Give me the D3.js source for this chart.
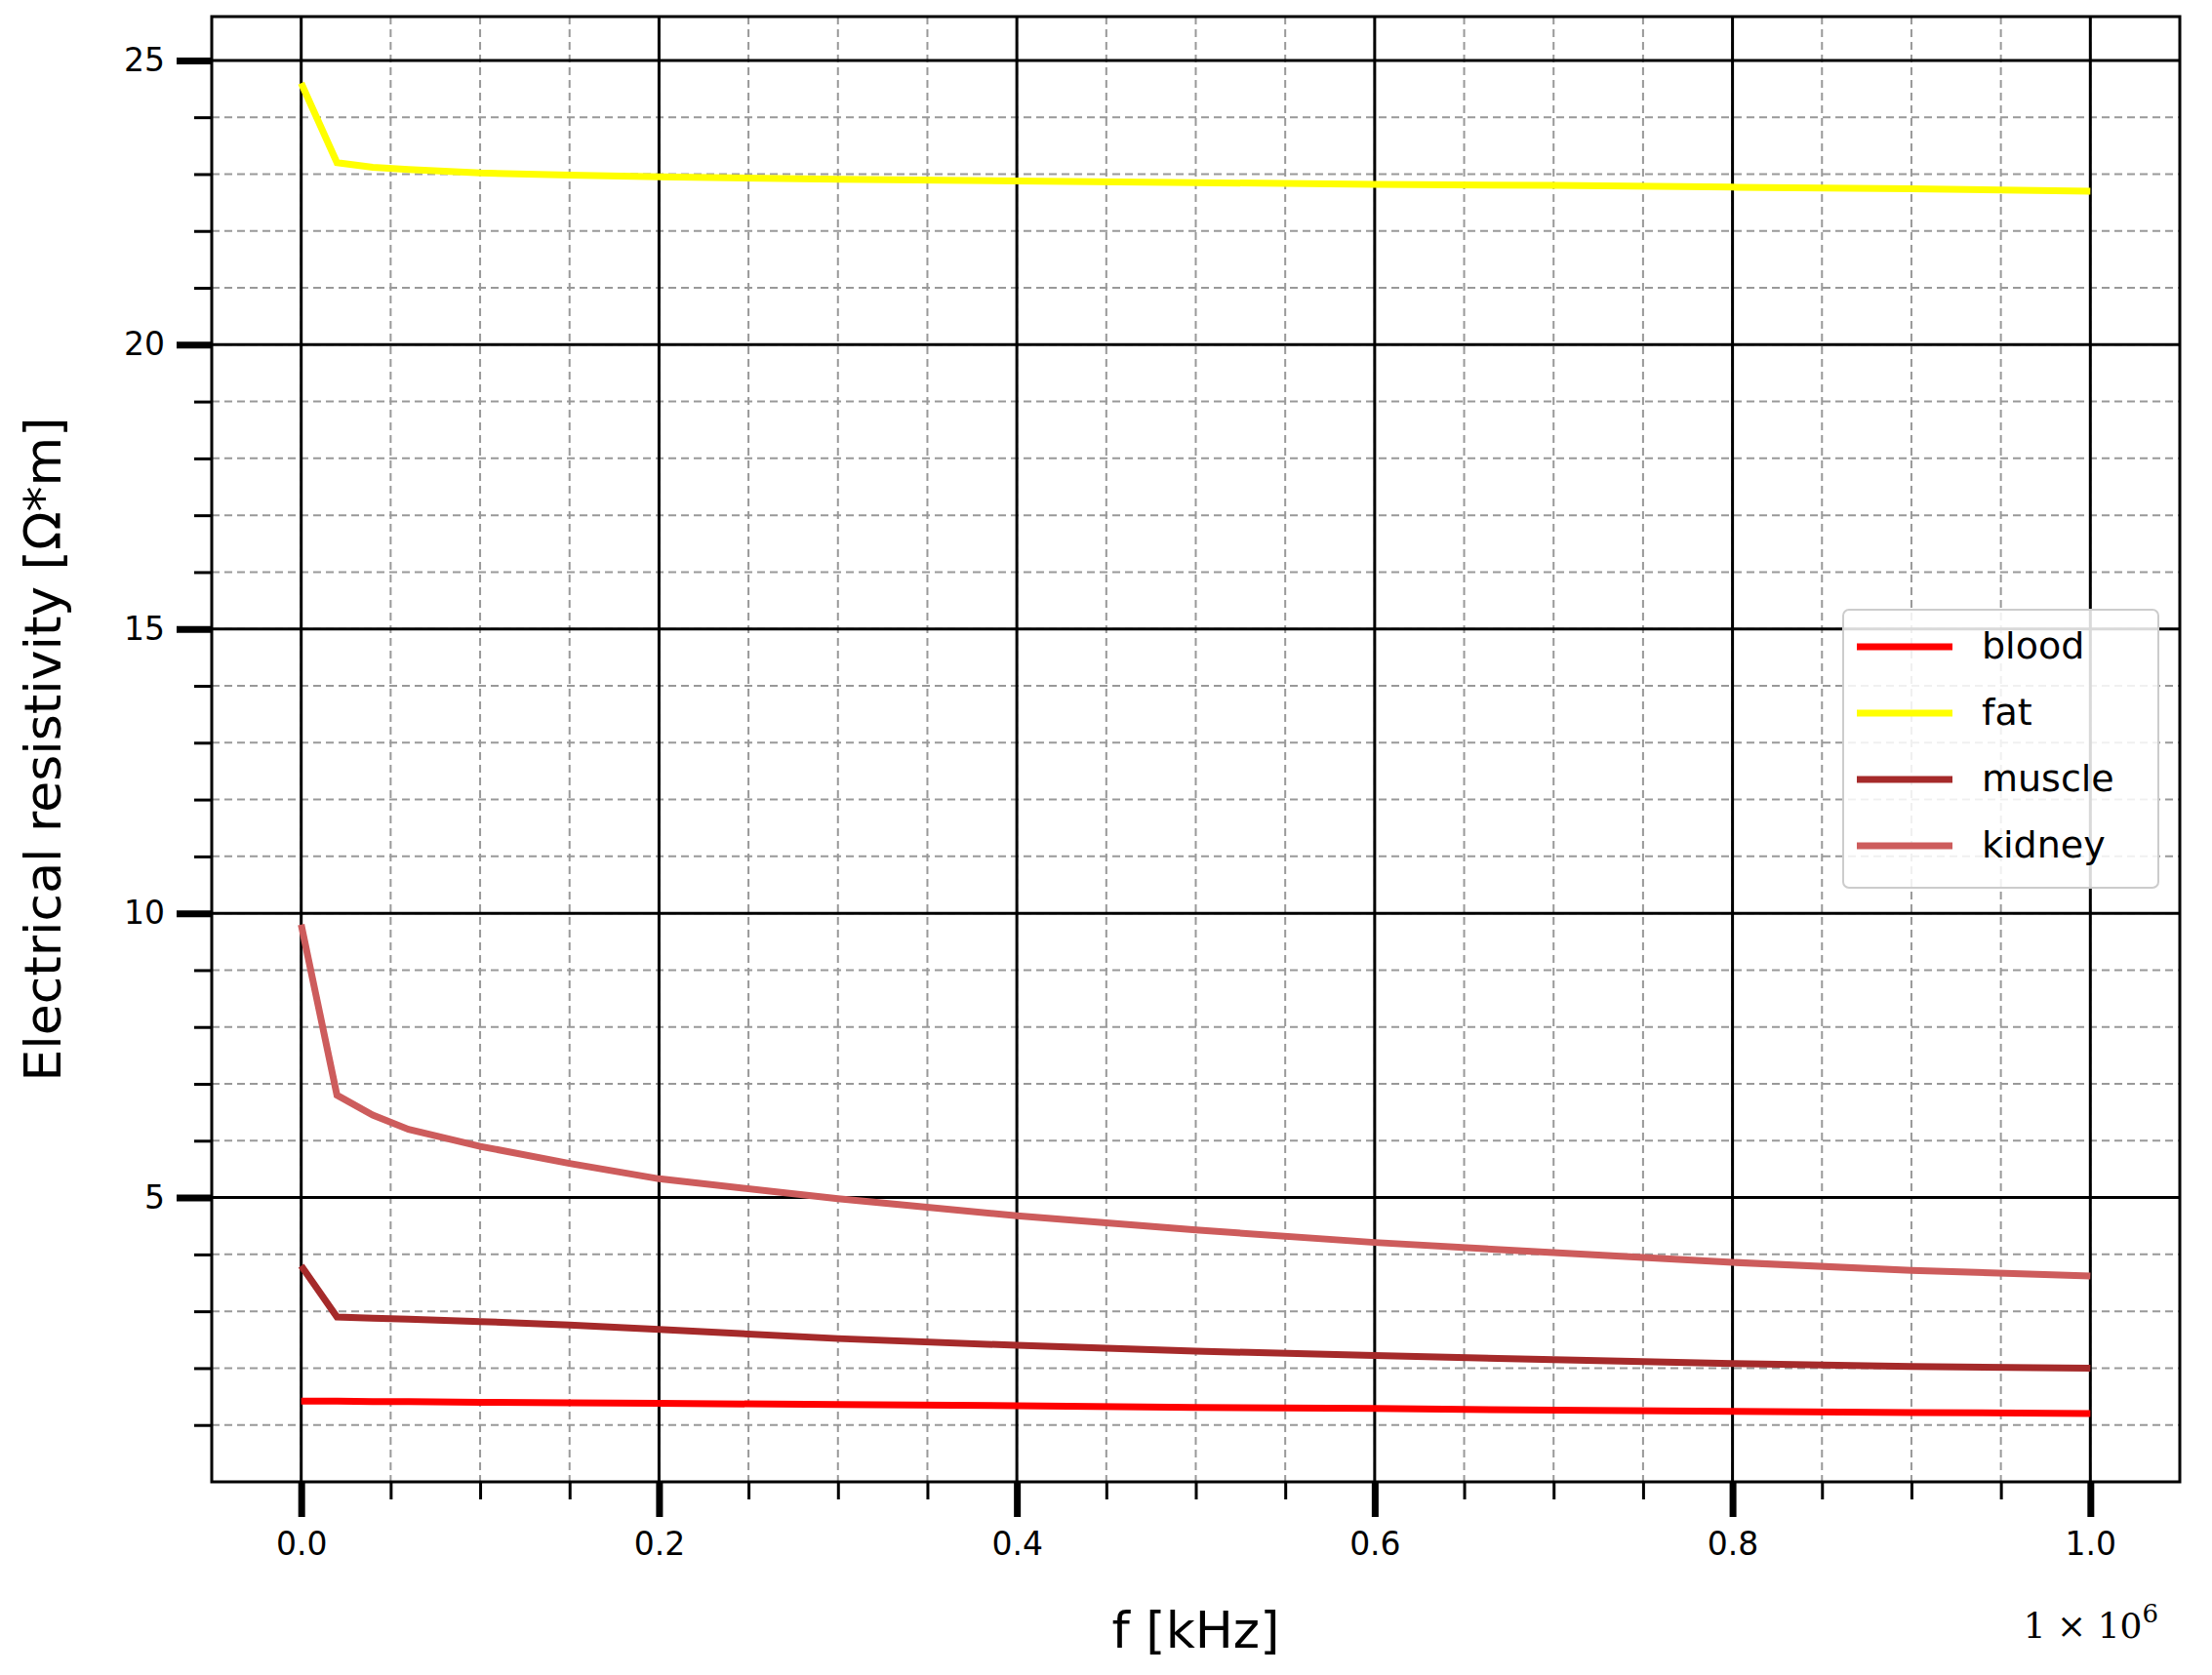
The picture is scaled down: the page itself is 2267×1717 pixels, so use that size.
<!DOCTYPE html>
<html><head><meta charset="utf-8">
<script src="https://cdn.jsdelivr.net/npm/d3@7"></script>
<style>body{margin:0;background:#fff}</style>
</head><body>
<div id="chart"></div>
<script>
var freq    = [0, 0.02, 0.04, 0.06, 0.1, 0.15, 0.2, 0.3, 0.4, 0.5, 0.6, 0.7, 0.8, 0.9, 1.0];
var blood   = [1.42, 1.42, 1.41, 1.41, 1.40, 1.39, 1.38, 1.36, 1.34, 1.31, 1.29, 1.26, 1.24, 1.22, 1.20];
var fat     = [24.6, 23.2, 23.12, 23.08, 23.02, 22.98, 22.95, 22.91, 22.88, 22.85, 22.82, 22.80, 22.77, 22.74, 22.70];
var muscle  = [3.8, 2.9, 2.88, 2.86, 2.82, 2.76, 2.68, 2.52, 2.40, 2.30, 2.22, 2.15, 2.08, 2.03, 2.00];
var kidney  = [9.8, 6.8, 6.45, 6.2, 5.9, 5.6, 5.33, 4.98, 4.68, 4.43, 4.21, 4.03, 3.86, 3.72, 3.62];
var names   = ["blood", "fat", "muscle", "kidney"];
var colors  = ["#ff0000", "#ffff00", "#a52a2a", "#cd5c5c"];
var series  = [blood, fat, muscle, kidney];
var xTicks  = [0, 0.2, 0.4, 0.6, 0.8, 1.0];
var yTicks  = [5, 10, 15, 20, 25];

var W = 2267, H = 1717;
var margin = {top:17, right:33, bottom:198, left:217};
var width = W - margin.left - margin.right, height = H - margin.top - margin.bottom;

var x = d3.scaleLinear().domain([-0.05, 1.05]).range([0, width]);
var y = d3.scaleLinear().domain([0, 25.77]).range([height, 0]);

var svg = d3.select("#chart").append("svg").attr("width", W).attr("height", H)
  .append("g").attr("transform", "translate(" + [margin.left, margin.top] + ")");

var minorX = d3.range(0, 1.0001, 0.05), minorY = d3.range(1, 25.5, 1);

// minor grid
svg.selectAll(".mgx").data(minorX).enter().append("line")
  .attr("x1", d => x(d)).attr("x2", d => x(d)).attr("y1", 0).attr("y2", height)
  .attr("stroke", "#999").attr("stroke-width", 2).attr("stroke-dasharray", "8,5");
svg.selectAll(".mgy").data(minorY).enter().append("line")
  .attr("y1", d => y(d)).attr("y2", d => y(d)).attr("x1", 0).attr("x2", width)
  .attr("stroke", "#999").attr("stroke-width", 2).attr("stroke-dasharray", "8,5");
// major grid
svg.selectAll(".gx").data(xTicks).enter().append("line")
  .attr("x1", d => x(d)).attr("x2", d => x(d)).attr("y1", 0).attr("y2", height)
  .attr("stroke", "#000").attr("stroke-width", 3);
svg.selectAll(".gy").data(yTicks).enter().append("line")
  .attr("y1", d => y(d)).attr("y2", d => y(d)).attr("x1", 0).attr("x2", width)
  .attr("stroke", "#000").attr("stroke-width", 3);

var line = d3.line().x((d, i) => x(freq[i])).y(d => y(d));
series.forEach(function(s, k){
  svg.append("path").datum(s).attr("d", line).attr("fill", "none")
    .attr("stroke", colors[k]).attr("stroke-width", 7);
});

svg.append("rect").attr("width", width).attr("height", height)
  .attr("fill", "none").attr("stroke", "#000").attr("stroke-width", 3);

// axes
var xMinor = svg.append("g").attr("transform", "translate(0," + height + ")")
  .call(d3.axisBottom(x).tickValues(minorX).tickSize(18).tickFormat(""));
var xMajor = svg.append("g").attr("transform", "translate(0," + height + ")")
  .call(d3.axisBottom(x).tickValues(xTicks).tickSize(36).tickPadding(16).tickFormat(d3.format(".1f")));
var yMinor = svg.append("g")
  .call(d3.axisLeft(y).tickValues(minorY).tickSize(18).tickFormat(""));
var yMajor = svg.append("g")
  .call(d3.axisLeft(y).tickValues(yTicks).tickSize(36).tickPadding(12));
svg.selectAll(".domain").remove();
xMinor.selectAll(".tick line").attr("stroke-width", 3);
yMinor.selectAll(".tick line").attr("stroke-width", 3);
xMajor.selectAll(".tick line").attr("stroke-width", 7);
yMajor.selectAll(".tick line").attr("stroke-width", 7);
xMajor.attr("font-size", null);
yMajor.attr("font-size", null);
svg.selectAll(".tick text").style("font-family", "DejaVu Sans").style("font-size", "33px").attr("fill", "#000");

svg.append("text").attr("x", x(0.5)).attr("y", height + 170).attr("text-anchor", "middle")
  .attr("font-family", "DejaVu Sans").attr("font-size", 52).text("f [kHz]");
svg.append("text").attr("transform", "translate(-155," + (height / 2) + ")rotate(-90)")
  .attr("text-anchor", "middle").attr("font-family", "DejaVu Sans").attr("font-size", 52)
  .text("Electrical resistivity [Ω*m]");
var off = svg.append("text").attr("x", width - 22).attr("y", height + 160).attr("text-anchor", "end")
  .attr("font-family", "DejaVu Serif").attr("font-size", 36);
off.append("tspan").text("1 × 10");
off.append("tspan").attr("dy", -16).attr("font-size", 26).text("6");

// legend
var lg = svg.append("g").attr("transform", "translate(" + (1889 - margin.left) + "," + (625 - margin.top) + ")");
lg.append("rect").attr("width", 323).attr("height", 285).attr("rx", 6)
  .attr("fill", "#fff").attr("fill-opacity", 0.85).attr("stroke", "#ccc").attr("stroke-width", 2);
names.forEach(function(n, k){
  var yy = 38 + k * 68;
  lg.append("line").attr("x1", 14).attr("x2", 112).attr("y1", yy).attr("y2", yy)
    .attr("stroke", colors[k]).attr("stroke-width", 7);
  lg.append("text").attr("x", 142).attr("y", yy + 12).attr("font-family", "DejaVu Sans")
    .attr("font-size", 38).text(n);
});
</script>
</body></html>
